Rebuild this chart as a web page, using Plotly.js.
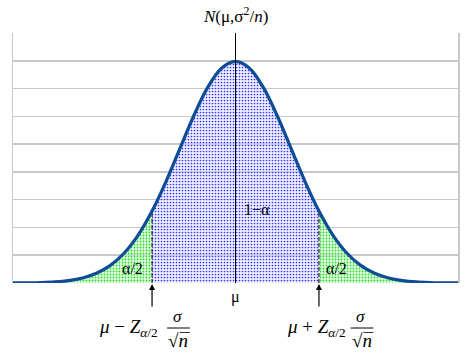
<!DOCTYPE html>
<html><head><meta charset="utf-8">
<script src="https://cdn.plot.ly/plotly-3.0.1.min.js"></script>
<style>html,body{margin:0;padding:0;background:#fff}#c{width:468px;height:354px}</style>
</head><body><div id="c"></div>
<script>
// standardized values z and density
const zLeft   = [-4, -3.75, -3.5, -3.25, -3, -2.75, -2.5, -2.25, -2, -1.75, -1.5];
const pLeft   = [0.0001, 0.0004, 0.0009, 0.0020, 0.0044, 0.0091, 0.0175, 0.0317, 0.0540, 0.0863, 0.1295];
const zMid    = [-1.5, -1.25, -1, -0.75, -0.5, -0.25, 0, 0.25, 0.5, 0.75, 1, 1.25, 1.5];
const pMid    = [0.1295, 0.1826, 0.2420, 0.3011, 0.3521, 0.3867, 0.3989, 0.3867, 0.3521, 0.3011, 0.2420, 0.1826, 0.1295];
const zRight  = [1.5, 1.75, 2, 2.25, 2.5, 2.75, 3, 3.25, 3.5, 3.75, 4];
const pRight  = [0.1295, 0.0863, 0.0540, 0.0317, 0.0175, 0.0091, 0.0044, 0.0020, 0.0009, 0.0004, 0.0001];
const zCrit   = [-1.5, 1.5];
const pCrit   = [0.1295, 0.1295];

const zAll = zLeft.concat(zMid.slice(1), zRight.slice(1));
const pAll = pLeft.concat(pMid.slice(1), pRight.slice(1));

const serif = 'Liberation Serif';
const green = {shape: '.', fgcolor: '#2fd82f', bgcolor: 'rgba(205,255,205,0.55)', size: 3, solidity: 0.3};
const blue  = {shape: '.', fgcolor: '#3030ff', bgcolor: 'rgba(225,225,255,0.5)', size: 3, solidity: 0.25};

const traces = [
  {x: zLeft, y: pLeft, type: 'scatter', mode: 'lines', fill: 'tozeroy', fillpattern: green, line: {width: 0, shape: 'spline'}, hoverinfo: 'skip'},
  {x: zRight, y: pRight, type: 'scatter', mode: 'lines', fill: 'tozeroy', fillpattern: green, line: {width: 0, shape: 'spline'}, hoverinfo: 'skip'},
  {x: zMid, y: pMid, type: 'scatter', mode: 'lines', fill: 'tozeroy', fillpattern: blue, line: {width: 0, shape: 'spline'}, hoverinfo: 'skip'},
  {x: [zCrit[0], zCrit[0]], y: [0, pCrit[0]], type: 'scatter', mode: 'lines', line: {color: '#000', width: 1, dash: '4px,2px'}},
  {x: [zCrit[1], zCrit[1]], y: [0, pCrit[1]], type: 'scatter', mode: 'lines', line: {color: '#000', width: 1, dash: '4px,2px'}},
  {x: zAll, y: pAll, type: 'scatter', mode: 'lines', line: {color: '#0f4c96', width: 3.2, shape: 'spline'}}
];

function ann(text, x, y, size, extra) {
  return Object.assign({text: text, x: x, y: y, xref: 'x', yref: 'paper', showarrow: false,
    font: {family: serif, size: size, color: '#000'}, xanchor: 'center', yanchor: 'middle'}, extra || {});
}

const annotations = [
  ann('<i>N</i>(μ,σ<sup>2</sup>/<i>n</i>)', 0, 1.07, 17),
  ann('1−α', 0.39, 0.296, 16),
  ann('α/2', -1.85, 0.06, 16),
  ann('α/2', 1.82, 0.06, 16),
  ann('μ', 0, -0.055, 16),
  ann('<i>μ</i> − <i>Z</i><sub><i>α</i>/2</sub>', -1.93, -0.178, 19),
  ann('<i>σ</i>', -1.05, -0.135, 17),
  ann('√<i>n</i>', -1.03, -0.228, 19),
  ann('<i>μ</i> + <i>Z</i><sub><i>α</i>/2</sub>', 1.45, -0.178, 19),
  ann('<i>σ</i>', 2.25, -0.135, 17),
  ann('√<i>n</i>', 2.27, -0.228, 19),
  {x: zCrit[0], y: 0, xref: 'x', yref: 'y', text: '', showarrow: true, arrowhead: 2, arrowsize: 1, arrowwidth: 1.2, arrowcolor: '#000', ax: 0, ay: 25, standoff: 1},
  {x: zCrit[1], y: 0, xref: 'x', yref: 'y', text: '', showarrow: true, arrowhead: 2, arrowsize: 1, arrowwidth: 1.2, arrowcolor: '#000', ax: 0, ay: 25, standoff: 1}
];

const shapes = [
  {type: 'line', xref: 'x', yref: 'paper', x0: 0, x1: 0, y0: 0, y1: 1, layer: 'above', line: {color: '#000', width: 1}},
  {type: 'line', xref: 'x', yref: 'paper', x0: -1.23, x1: -0.82, y0: -0.18, y1: -0.18, line: {color: '#000', width: 1}},
  {type: 'line', xref: 'x', yref: 'paper', x0: 2.07, x1: 2.48, y0: -0.18, y1: -0.18, line: {color: '#000', width: 1}},
  {type: 'line', xref: 'x', yref: 'paper', x0: -1.0, x1: -0.82, y0: -0.198, y1: -0.198, line: {color: '#000', width: 0.8}},
  {type: 'line', xref: 'x', yref: 'paper', x0: 2.3, x1: 2.48, y0: -0.198, y1: -0.198, line: {color: '#000', width: 0.8}}
];

const layout = {
  width: 468, height: 354,
  margin: {l: 13, r: 10, t: 33, b: 71},
  paper_bgcolor: '#fff', plot_bgcolor: '#fff',
  font: {family: serif},
  showlegend: false,
  xaxis: {range: [-4, 4], showgrid: false, showticklabels: false, ticks: '',
    zeroline: false, showline: false, fixedrange: true},
  yaxis: {range: [0, 0.45], dtick: 0.05, showgrid: true, gridcolor: '#c8c8c8', gridwidth: 1.5,
    showticklabels: false, ticks: '', zeroline: false, showline: true, mirror: true,
    linecolor: '#c8c8c8', linewidth: 1.5, fixedrange: true},
  annotations: annotations,
  shapes: shapes
};

Plotly.newPlot('c', traces, layout, {displayModeBar: false, staticPlot: true});
</script></body></html>
